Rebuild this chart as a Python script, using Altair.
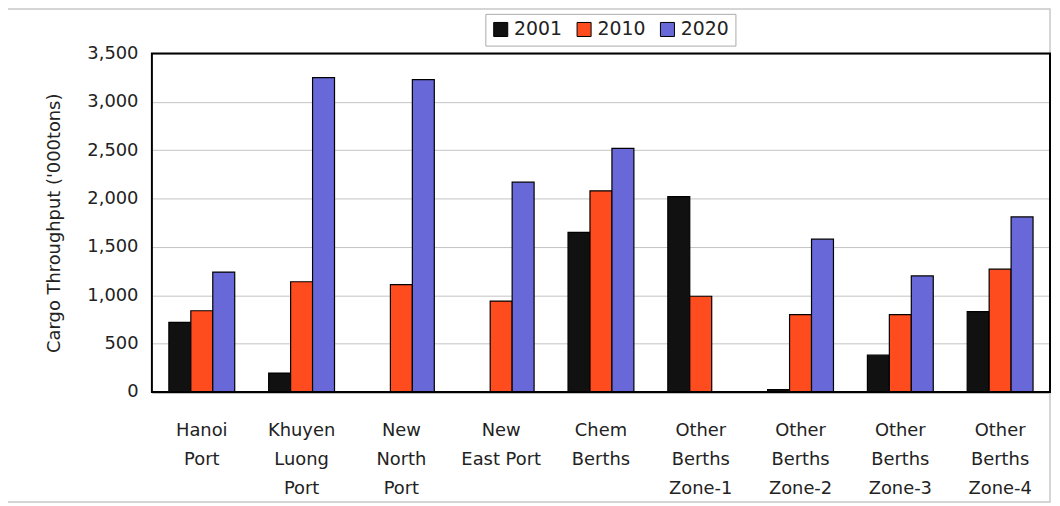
import altair as alt
import pandas as pd

categories = ["Hanoi|Port", "Khuyen|Luong|Port", "New|North|Port", "New|East Port", "Chem|Berths",
              "Other|Berths|Zone-1", "Other|Berths|Zone-2", "Other|Berths|Zone-3", "Other|Berths|Zone-4"]
years = ["2001", "2010", "2020"]
v2001 = [720, 195, 0, 0, 1650, 2020, 25, 380, 830]
v2010 = [840, 1140, 1110, 940, 2080, 990, 800, 800, 1270]
v2020 = [1240, 3250, 3230, 2170, 2520, 0, 1580, 1200, 1810]
colors = ["#111111", "#ff4c1e", "#6868d8"]

rows = []
for i, c in enumerate(categories):
    for y, vals in zip(years, [v2001, v2010, v2020]):
        rows.append({"cat": c, "year": y, "value": vals[i]})
df = pd.DataFrame(rows)

FONT = "DejaVu Sans"

bars = alt.Chart(df).transform_filter("datum.value > 0").mark_bar(stroke="black", strokeWidth=1.2).encode(
    x=alt.X("cat:N", sort=categories,
            scale=alt.Scale(domain=categories, paddingInner=0.34, paddingOuter=0.17),
            axis=alt.Axis(title=None, labelExpr="split(datum.value, '|')", labelAngle=0,
                          labelFontSize=18, labelLineHeight=29, labelPadding=30,
                          labelColor="#222", labelFont=FONT, ticks=False,
                          domainColor="black", domainWidth=1.5, labelBaseline="top")),
    xOffset=alt.XOffset("year:N", scale=alt.Scale(domain=years)),
    y=alt.Y("value:Q", scale=alt.Scale(domain=[0, 3500]),
            axis=alt.Axis(title="Cargo Throughput ('000tons)", values=list(range(0, 3501, 500)),
                          format=",.0f", labelFontSize=18, labelColor="#222", labelFont=FONT,
                          labelPadding=14, ticks=False, domain=False,
                          gridColor="#c4c4c4", gridWidth=1,
                          titleFontSize=18, titleFontWeight="normal", titleColor="#222",
                          titleFont=FONT, titlePadding=24)),
    color=alt.Color("year:N", sort=years,
                    scale=alt.Scale(domain=years, range=colors),
                    legend=alt.Legend(title=None, orient="none", legendX=336, legendY=-40,
                                      direction="horizontal", symbolType="square",
                                      symbolSize=200, symbolStrokeColor="black",
                                      symbolStrokeWidth=1, labelFontSize=19, labelFont=FONT,
                                      labelColor="#222", columnPadding=12, labelOffset=4,
                                      strokeColor="#aaaaaa", padding=6, fillColor="white")),
)

one = pd.DataFrame({"k": [0]})
frame = alt.Chart(one).mark_rect(
    fill=None, stroke="#c8c8c8", strokeWidth=1.5
).encode(x=alt.value(-146), x2=alt.value(905), y=alt.value(-45), y2=alt.value(452))

plot_border = alt.Chart(one).mark_rect(
    fill=None, stroke="black", strokeWidth=2
).encode(x=alt.value(0), x2=alt.value(905), y=alt.value(0), y2=alt.value(341))

chart = alt.layer(frame, bars, plot_border).properties(
    width=905, height=341,
    autosize=alt.AutoSizeParams(type="none"),
    padding={"left": 145, "top": 44, "right": 2, "bottom": 110},
    background="white",
).configure_view(stroke=None)

chart.save("out.html", embed_options={"renderer": "svg", "actions": False})
